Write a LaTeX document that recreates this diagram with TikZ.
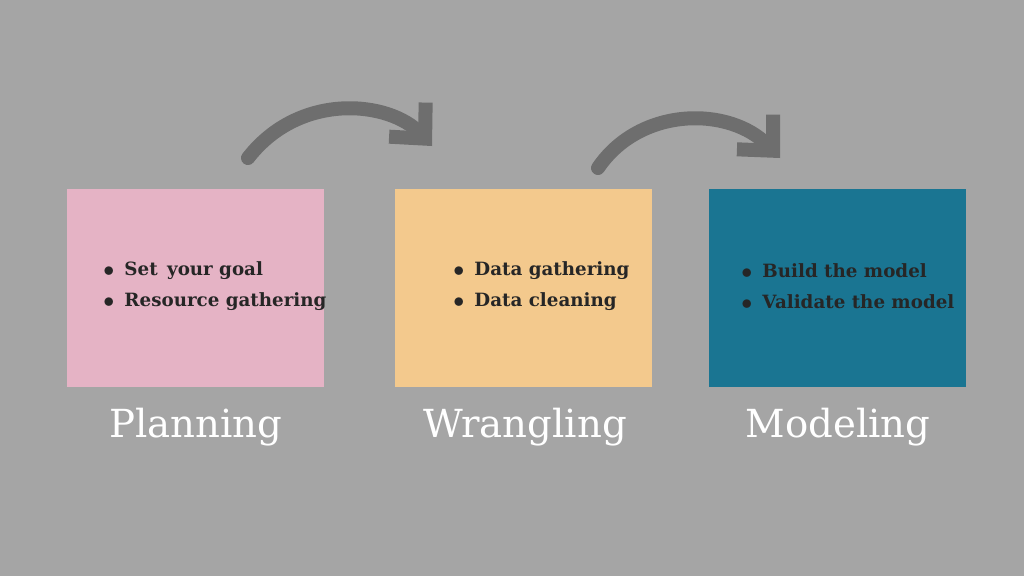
\documentclass[tikz,border=0pt]{standalone}
\usepackage{fontspec}
\setmainfont{DejaVu Serif}
\usetikzlibrary{arrows.meta}
\definecolor{bggray}{HTML}{A5A5A5}
\definecolor{pinkbox}{HTML}{E5B3C5}
\definecolor{orangebox}{HTML}{F3C98D}
\definecolor{tealbox}{HTML}{1A7592}
\definecolor{arrowgray}{HTML}{6E6E6E}
\tikzset{
  stage/.style={minimum width=2.57cm, minimum height=1.98cm, inner sep=0pt},
  stagename/.style={text=white, font=\fontsize{11}{13}\selectfont},
  items/.style={font=\bfseries\fontsize{5.2}{9}\selectfont, align=left, anchor=west},
  flow/.style={arrowgray, line width=1.4mm, line cap=round, -{Straight Barb[length=2.6mm, width=5mm]}}
}
\begin{document}
\begin{tikzpicture}[x=1cm,y=1cm]
			\fill[bggray] (0,0) rectangle (10.24,5.76);
			\useasboundingbox (0,0) rectangle (10.24,5.76);
			
			\node[stage, fill=pinkbox]   (plan)  at (1.955, 2.88) {};
			\node[stage, fill=orangebox] (wrang) at (5.235, 2.88) {};
			\node[stage, fill=tealbox]   (model) at (8.375, 2.88) {};
			
			\node[items, text=black!85] (planitems)  at (0.90, 2.90) {$\bullet$\enspace Set\, your goal\\$\bullet$\enspace Resource gathering};
			\node[items, text=black!85] (wrangitems) at (4.40, 2.90) {$\bullet$\enspace Data gathering\\$\bullet$\enspace Data cleaning};
			\node[items, text=black!85] (modelitems) at (7.28, 2.90) {$\bullet$\enspace Build the model\\$\bullet$\enspace Validate the model};
			
			\node[stagename] (planname)  at (1.96, 1.49) {Planning};
			\node[stagename] (wrangname) at (5.25, 1.49) {Wrangling};
			\node[stagename] (modelname) at (8.38, 1.49) {Modeling};
			
			\coordinate (a1) at (2.48, 4.18);
			\coordinate (b1) at (4.32, 4.30);
			\coordinate (a2) at (5.98, 4.08);
			\coordinate (b2) at (7.80, 4.18);
			\draw[flow] (a1) .. controls (3.0, 4.85) and (3.9, 4.75) .. (b1);
			\draw[flow] (a2) .. controls (6.4, 4.70) and (7.3, 4.70) .. (b2);
		\end{tikzpicture}
\end{document}
